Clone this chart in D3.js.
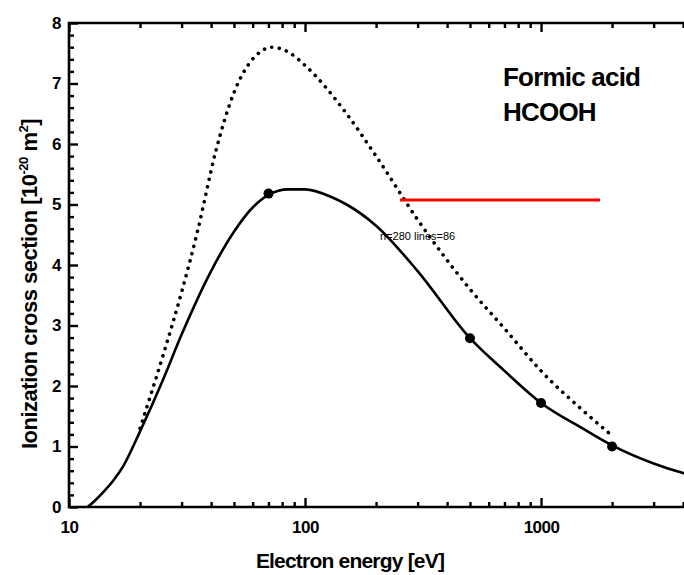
<!DOCTYPE html>
<html>
<head>
<meta charset="UTF-8">
<script src="https://d3js.org/d3.v7.min.js"></script>
<style>
  body { margin: 0; background: #fff; }
  text { font-family: "Liberation Sans", Arial, sans-serif; font-weight: bold; fill: #000; }
</style>
</head>
<body>
<svg id="svg" width="684" height="575"></svg>
<script>
// solid curve (total ionization cross section)
var solidE = [12, 13, 14, 15.5, 17, 20, 25, 30, 40, 50, 60, 70, 85, 100, 130, 150, 200, 300, 500, 700, 1000, 1500, 2000, 3000, 4000, 5000];
var solidV = [0, 0.12, 0.25, 0.45, 0.68, 1.25, 2.1, 2.85, 3.9, 4.55, 4.95, 5.16, 5.25, 5.25, 5.12, 5.0, 4.65, 3.9, 2.79, 2.25, 1.72, 1.3, 1.02, 0.72, 0.56, 0.46];
// dotted curve
var dotE = [20, 25, 30, 35, 42, 50, 58, 65, 72, 85, 100, 150, 200, 300, 500, 700, 1000, 1500, 2000];
var dotV = [1.3, 2.5, 3.55, 4.55, 5.9, 6.85, 7.33, 7.53, 7.6, 7.52, 7.3, 6.5, 5.8, 4.75, 3.6, 2.95, 2.25, 1.6, 1.18];
// measured points
var ptE = [70, 500, 1000, 2000];
var ptV = [5.18, 2.79, 1.72, 1.0];

var xTicks = [10, 100, 1000];
var xMinor = [20, 30, 40, 50, 60, 70, 80, 90, 200, 300, 400, 500, 600, 700, 800, 900, 2000, 3000, 4000];
var yTicks = [0, 1, 2, 3, 4, 5, 6, 7, 8];
var yMinor = d3.range(0, 41).filter(function(i) { return i % 5 != 0; }).map(function(i) { return i / 5; });

var svg = d3.select("svg");

var x = d3.scaleLog().domain([10, 5000]).range([69, 706]);
var y = d3.scaleLinear().domain([0, 8]).range([507, 23]);

var lineGen = d3.line()
  .x(function(d) { return x(d[0]); })
  .y(function(d) { return y(d[1]); })
  .curve(d3.curveMonotoneX);

// dotted curve
svg.append("path")
  .attr("d", lineGen(dotE.map(function(e, i) { return [e, dotV[i]]; })))
  .attr("fill", "none").attr("stroke", "#000").attr("stroke-width", 3.6)
  .attr("stroke-linecap", "round").attr("stroke-dasharray", "0.1 7.5");

// solid curve
svg.append("path")
  .attr("d", lineGen(solidE.map(function(e, i) { return [e, solidV[i]]; })))
  .attr("fill", "none").attr("stroke", "#000").attr("stroke-width", 2.6);

svg.append("g").selectAll("circle").data(ptE).enter().append("circle")
  .attr("cx", function(d) { return x(d); })
  .attr("cy", function(d, i) { return y(ptV[i]); })
  .attr("r", 5)
  .attr("fill", "#000");

// axes, ticks pointing inward
function styleAxis(g) {
  g.select(".domain").remove();
  g.selectAll("line").attr("stroke", "#000").attr("stroke-width", 2.4);
  g.selectAll("text").style("font-size", "17px").style("letter-spacing", "-0.5px");
}
svg.append("g").attr("transform", "translate(0," + y(0) + ")")
  .call(d3.axisBottom(x).tickValues(xTicks).tickSizeInner(-9).tickSizeOuter(0).tickPadding(14).tickFormat(d3.format("d")))
  .call(styleAxis);
svg.append("g").attr("transform", "translate(0," + y(0) + ")")
  .call(d3.axisBottom(x).tickValues(xMinor).tickSizeInner(-5).tickSizeOuter(0).tickFormat(""))
  .call(styleAxis);
svg.append("g").attr("transform", "translate(0," + y(8) + ")")
  .call(d3.axisTop(x).tickValues(xTicks).tickSizeInner(-9).tickSizeOuter(0).tickFormat(""))
  .call(styleAxis);
svg.append("g").attr("transform", "translate(0," + y(8) + ")")
  .call(d3.axisTop(x).tickValues(xMinor).tickSizeInner(-5).tickSizeOuter(0).tickFormat(""))
  .call(styleAxis);
svg.append("g").attr("transform", "translate(" + x(10) + ",0)")
  .call(d3.axisLeft(y).tickValues(yTicks).tickSizeInner(-9).tickSizeOuter(0).tickPadding(8))
  .call(styleAxis);
svg.append("g").attr("transform", "translate(" + x(10) + ",0)")
  .call(d3.axisLeft(y).tickValues(yMinor).tickSizeInner(-5).tickSizeOuter(0).tickFormat(""))
  .call(styleAxis);

// frame
svg.append("path")
  .attr("d", "M" + x(10) + "," + y(0) + "H" + x(5000) + "V" + y(8) + "H" + x(10) + "Z")
  .attr("fill", "none").attr("stroke", "#000").attr("stroke-width", 2.6);

// axis titles
svg.append("text")
  .attr("x", 350).attr("y", 568)
  .attr("text-anchor", "middle")
  .style("font-size", "21px").style("letter-spacing", "-0.8px")
  .text("Electron energy [eV]");

var yt = svg.append("text")
  .attr("transform", "translate(37,284) rotate(-90)")
  .attr("text-anchor", "middle")
  .style("font-size", "22px").style("letter-spacing", "-0.5px");
yt.append("tspan").text("Ionization cross section [10");
yt.append("tspan").attr("dy", -9).style("font-size", "13px").text("-20");
yt.append("tspan").attr("dy", 9).text(" m");
yt.append("tspan").attr("dy", -9).style("font-size", "13px").text("2");
yt.append("tspan").attr("dy", 9).text("]");

// label
svg.append("text").attr("x", 503).attr("y", 86)
  .style("font-size", "26px").style("letter-spacing", "-0.8px")
  .text("Formic acid");
svg.append("text").attr("x", 503).attr("y", 121)
  .style("font-size", "26px").style("letter-spacing", "-0.8px")
  .text("HCOOH");

// diagnostic
var fr = svg.select("path:last-of-type").node();
svg.append("line").attr("x1", 400).attr("x2", 600).attr("y1", 200).attr("y2", 200).attr("stroke", "red").attr("stroke-width", 3);
svg.append("text").attr("x", 380).attr("y", 240).style("font-size", "11px").style("font-weight", "normal")
  .text("n=" + document.querySelectorAll("svg *").length + " lines=" + document.querySelectorAll("svg line").length);
</script>
</body>
</html>
